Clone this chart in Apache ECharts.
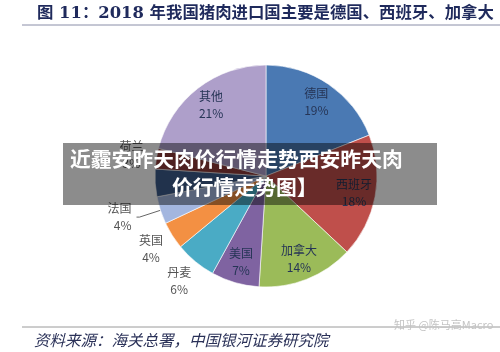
<!DOCTYPE html>
<html>
<head>
<meta charset="utf-8">
<style>
  html, body { margin: 0; padding: 0; background: #fff; }
  #chart { width: 500px; height: 352px; }
</style>
<script src="https://cdn.jsdelivr.net/npm/echarts@6/dist/echarts.min.js"></script>
</head>
<body>
<div id="chart"></div>
<script>
;(function () {
  const countries = ['德国', '西班牙', '加拿大', '美国', '丹麦', '英国', '法国', '智利', '荷兰', '其他']
  const shares = [19, 18, 14, 7, 6, 4, 4, 4, 3, 21]
  const colors = ['#4a79b3', '#bf4f4b', '#9bbb59', '#7f63a1', '#4aabc5', '#f39043', '#a3b6df', '#3d5b8a', '#8e3b39', '#ae9fca']
  const insideNames = ['德国', '西班牙', '加拿大', '美国', '其他']
  const leaderNames = ['法国']

  const center = [266, 176]
  const radius = 111

  // slices, with the one leader-line label
  const baseData = countries.map((name, i) => ({
    name,
    value: shares[i],
    itemStyle: { color: colors[i] },
    label: { show: leaderNames.includes(name) },
    labelLine: { show: leaderNames.includes(name) },
  }))

  // invisible rings that only carry labels
  const ringData = (show) =>
    countries.map((name, i) => ({ name, value: shares[i], label: { show: show(name) } }))

  const labelStyle = {
    position: 'inside',
    formatter: '{b}\n{c}%',
    fontFamily: 'Noto Sans CJK SC',
    fontSize: 12,
    lineHeight: 17,
  }

  const chart = echarts.init(document.getElementById('chart'), null, { renderer: 'canvas' })

  chart.setOption({
    backgroundColor: '#fff',
    animation: false,
    title: {
      text: '图 11：2018 年我国猪肉进口国主要是德国、西班牙、加拿大',
      left: 32,
      top: 1,
      textStyle: { fontFamily: 'DejaVu Serif, Noto Sans CJK SC', fontSize: 16.4, fontWeight: 'bold', color: '#1f2a5c' },
    },
    series: [
      {
        type: 'pie',
        center,
        radius: [0, radius],
        startAngle: 90,
        silent: true,
        avoidLabelOverlap: false,
        data: baseData,
        itemStyle: { borderColor: '#fff', borderWidth: 0.6 },
        label: { ...labelStyle, position: 'outside', color: '#555', align: 'center' },
        labelLine: { length: 22, length2: 3, lineStyle: { color: '#666', width: 1 } },
      },
      {
        type: 'pie',
        center,
        radius: [radius * 0.56, radius],
        startAngle: 90,
        silent: true,
        data: ringData((n) => insideNames.includes(n)),
        itemStyle: { color: 'rgba(0,0,0,0)' },
        label: { ...labelStyle, color: '#263556' },
        labelLine: { show: false },
      },
      {
        type: 'pie',
        center,
        radius: [radius, radius * 1.4],
        startAngle: 90,
        silent: true,
        data: ringData((n) => !insideNames.includes(n) && !leaderNames.includes(n)),
        itemStyle: { color: 'rgba(0,0,0,0)' },
        label: { ...labelStyle, color: '#555' },
        labelLine: { show: false },
      },
    ],
    graphic: [
      { type: 'line', shape: { x1: 22, y1: 25, x2: 500, y2: 25 }, style: { stroke: '#8a8ea8', lineWidth: 1 } },
      { type: 'line', shape: { x1: 22, y1: 327, x2: 500, y2: 327 }, style: { stroke: '#9a9a9a', lineWidth: 1 } },
      {
        type: 'text', left: 34, top: 332,
        style: { text: '资料来源：海关总署，中国银河证券研究院', font: 'italic 15.5px "Noto Sans CJK SC"', fill: '#2a3158' },
      },
      {
        type: 'text', left: 394, top: 319,
        style: { text: '知乎 @陈马高Macro', font: '11px "Noto Sans CJK SC"', fill: '#c4c4c4' },
      },
      { type: 'rect', z: 100, shape: { x: 63, y: 143, width: 374, height: 62 }, style: { fill: 'rgba(0,0,0,0.45)' } },
      {
        type: 'text', z: 101, left: 70, top: 149,
        style: { text: '近霾安昨天肉价行情走势西安昨天肉', font: 'bold 20.8px "Noto Sans CJK SC"', fill: '#fff' },
      },
      {
        type: 'text', z: 101, left: 172, top: 177,
        style: { text: '价行情走势图】', font: 'bold 20.8px "Noto Sans CJK SC"', fill: '#fff' },
      },
    ],
  })
})()
</script>
</body>
</html>
